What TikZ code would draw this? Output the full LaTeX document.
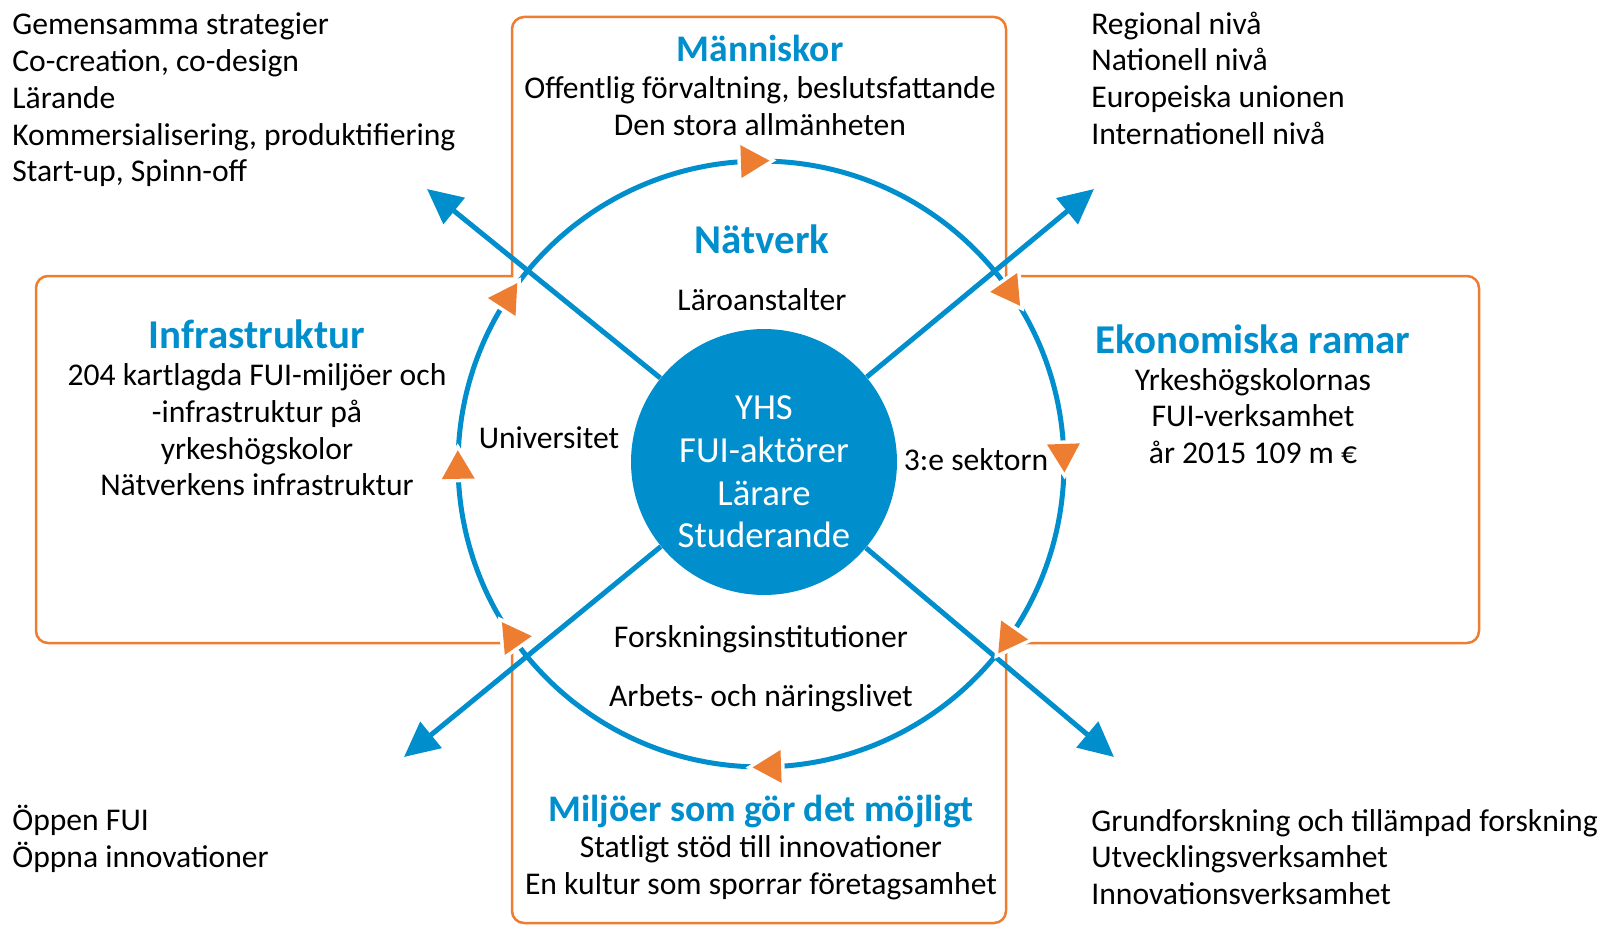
\documentclass[tikz,border=0pt]{standalone}
\usepackage{fontspec}
\setmainfont{Carlito}
\usetikzlibrary{shapes.geometric}
\usetikzlibrary{arrows.meta}
\definecolor{fuiblue}{RGB}{0,142,204}
\definecolor{fuiorange}{RGB}{237,125,49}
\tikzset{
    ram/.style = {draw=fuiorange, line width=0.05cm},
    ring/.style = {circle, draw=fuiblue, line width=0.1cm, minimum size=12.12cm, inner sep=0, outer sep=0},
    hub/.style = {circle, fill=fuiblue, minimum size=5.32cm, inner sep=0},
    spoke/.style = {draw=fuiblue, line width=0.1cm, -{Triangle[length=0.7cm,width=0.66cm]}},
    flow/.style = {regular polygon, regular polygon sides=3, fill=fuiorange, minimum size=0.76cm, inner sep=0,
                   preaction={draw=white,line width=0.14cm}},
    rubrik/.style = {text=fuiblue, font=\fontsize{21.4}{25}\selectfont\bfseries, inner sep=0},
    rubrikstor/.style = {rubrik, font=\fontsize{23.3}{27}\selectfont\bfseries},
    brod/.style = {align=center, font=\fontsize{18}{20.9}\selectfont, inner sep=0},
    lista/.style = {align=left, anchor=west, font=\fontsize{18}{20.9}\selectfont, inner sep=0},
    hubtext/.style = {align=center, text=white, font=\fontsize{20.9}{24.3}\selectfont, inner sep=0}
}
\begin{document}
\begin{tikzpicture}[x=0.02cm,y=-0.02cm]
\useasboundingbox (0,0) rectangle (1603,926);
%
\draw[ram] (760,17) [rounded corners=0.24cm] -- (1006,17) [sharp corners] -- (1006,276)
  [rounded corners=0.24cm] -- (1479,276) -- (1479,643) [sharp corners] -- (1006,643)
  [rounded corners=0.24cm] -- (1006,923) -- (512,923) [sharp corners] -- (512,643)
  [rounded corners=0.24cm] -- (36,643) -- (36,276) [sharp corners] -- (512,276)
  [rounded corners=0.24cm] -- (512,17) [sharp corners] -- cycle;
%
\node[ring] at (761,464) (ring) {};
\node[hub] at (764,462) (yhs) {};
\coordinate (nw) at (427,189);
\coordinate (ne) at (1094,189);
\coordinate (sw) at (404,757);
\coordinate (se) at (1114,757);
\draw[spoke] (yhs) -- (nw);
\draw[spoke] (yhs) -- (ne);
\draw[spoke] (yhs) -- (sw);
\draw[spoke] (yhs) -- (se);
\foreach \a in {92,35,2,-35,-88,-145,181,147}
  \node[flow, rotate=\a-180] at (ring.\a) {};
%
\node[lista] at (12,100) (strategier) {Gemensamma strategier\\Co-creation, co-design\\Lärande\\Kommersialisering, produktifiering\\Start-up, Spinn-off};
\node[lista] at (1091,78) (nivaer) {Regional nivå\\Nationell nivå\\Europeiska unionen\\Internationell nivå};
\node[lista] at (12,839) (oppen) {Öppen FUI\\Öppna innovationer};
\node[lista] at (1091,857) (forskning) {Grundforskning och tillämpad forskning\\Utvecklingsverksamhet\\Innovationsverksamhet};
%
\node[rubrik] at (760,48) (manniskor) {Människor};
\node[brod] at (760,106) (manniskortext) {Offentlig förvaltning, beslutsfattande\\Den stora allmänheten};
\node[rubrikstor] at (762,239) (natverk) {Nätverk};
\node[brod] at (762,300) (laro) {Läroanstalter};
\node[brod] at (549,438) (uni) {Universitet};
\node[brod] at (976,460) (sektor) {3:e sektorn};
\node[brod] at (761,639) (forskinst) {Forskningsinstitutioner};
\node[brod] at (761,698) (naringsliv) {Arbets- och näringslivet};
\node[rubrikstor] at (257,334) (infra) {Infrastruktur};
\node[brod] at (257,430) (infratext) {204 kartlagda FUI-miljöer och\\-infrastruktur på\\yrkeshögskolor\\Nätverkens infrastruktur};
\node[rubrikstor] at (1253,339) (ekonomi) {Ekonomiska ramar};
\node[brod] at (1253,416) (ekonomitext) {Yrkeshögskolornas\\FUI-verksamhet\\år 2015 109 m €};
\node[rubrik] at (761,811) (miljoer) {Miljöer som gör det möjligt};
\node[brod] at (761,868) (miljoertext) {Statligt stöd till innovationer\\En kultur som sporrar företagsamhet};
\node[hubtext] at (764,472) (hubtext) {YHS\\FUI-aktörer\\Lärare\\Studerande};
\end{tikzpicture}
\end{document}
